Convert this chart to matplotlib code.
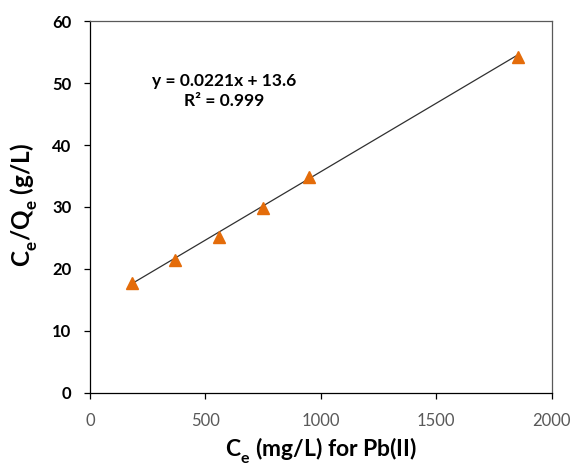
import matplotlib
matplotlib.use("Agg")
import matplotlib.pyplot as plt
import matplotlib._mathtext as _mt
import numpy as np

# Data
ce = [181, 369, 557, 749, 950, 1854]
ce_qe = [17.8, 21.5, 25.1, 29.9, 34.9, 54.3]
slope = 0.0221
intercept = 13.6
r2 = 0.999
x_ticks = [0, 500, 1000, 1500, 2000]
y_ticks = [0, 10, 20, 30, 40, 50, 60]

plt.rcParams['font.family'] = ['Lato', 'DejaVu Sans']
plt.rcParams['mathtext.fontset'] = 'custom'
plt.rcParams['mathtext.rm'] = 'Lato'
plt.rcParams['mathtext.bf'] = 'Lato:bold'
try:
    _mt.FontConstantsBase.sub1 = 0.55
    _mt.FontConstantsBase.sub2 = 0.6
except Exception:
    pass

fig = plt.figure(figsize=(5.72, 4.67), dpi=100)
ax = fig.add_axes([0.1573, 0.1591, 0.8069, 0.7953])

xfit = np.array([min(ce), max(ce)])
ax.plot(xfit, slope * xfit + intercept, color='#303030', lw=0.9, zorder=2)
ax.plot(ce, ce_qe, linestyle='none', marker='^', markersize=9,
        color='#E46C0A', markeredgecolor='#E46C0A', zorder=3)

ax.set_xlim(0, 2000)
ax.set_ylim(0, 60)
ax.set_xticks(x_ticks)
ax.set_yticks(y_ticks)
ax.set_xticklabels([str(v) for v in x_ticks], color='#595959', fontsize=12)
ax.set_yticklabels([str(v) for v in y_ticks], fontweight='bold', fontsize=12, color='black')
ax.tick_params(axis='both', direction='out', length=4.5, width=0.9)
ax.tick_params(axis='x', colors='#000000', labelcolor='#595959', pad=10)
ax.tick_params(axis='y', pad=9)

for s in ['left', 'bottom']:
    ax.spines[s].set_color('black')
    ax.spines[s].set_linewidth(0.9)
for s in ['top', 'right']:
    ax.spines[s].set_color('#595959')
    ax.spines[s].set_linewidth(0.9)

ax.set_xlabel(r'C$_\mathbf{e}$ (mg/L) for Pb(II)', fontsize=16.5, fontweight='bold')
ax.set_ylabel(r'C$_\mathbf{e}$/Q$_\mathbf{e}$ (g/L)', fontsize=17.5, fontweight='bold')
ax.xaxis.set_label_coords(0.5, -0.172, transform=ax.transAxes)
ax.xaxis.label.set_va('baseline')
ax.yaxis.set_label_coords(-0.142, 0.505, transform=ax.transAxes)
ax.yaxis.label.set_va('center')

ax.text(581, 50.4, f'y = {slope}x + {intercept}', ha='center', va='center',
        fontsize=12.5, fontweight='bold')
ax.text(581, 47.1, f'R² = {r2}', ha='center', va='center',
        fontsize=12.5, fontweight='bold')

fig.savefig('out.png', dpi=100)
